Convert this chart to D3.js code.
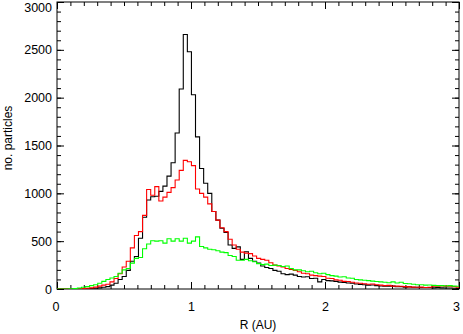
<!DOCTYPE html>
<html lang="en">
<head>
<meta charset="UTF-8">
<title>no. particles vs R</title>
<script src="https://cdnjs.cloudflare.com/ajax/libs/d3/7.8.5/d3.min.js"></script>
<style>
    body { margin: 0; background: #fff; }
    text { font-family: "Liberation Sans", Arial, Helvetica, sans-serif; }
</style>
</head>
<body>
<div id="chart"></div>
<script>
    // histogram counts per radial bin (bins of width binWidth starting at R = 0)
    var blackCounts = [
        0, 0, 0, 0, 0, 1, 2, 3, 5, 8,
        12, 18, 25, 40, 60, 100, 130, 195, 290, 340,
        530, 750, 930, 965, 970, 1020, 1075, 1180, 1320, 1630,
        2090, 2660, 2480, 2030, 1590, 1260, 1105, 1000, 810, 720,
        635, 590, 460, 425, 440, 310, 390, 320, 290, 270,
        240, 225, 215, 195, 185, 160, 150, 155, 145, 130,
        125, 128, 110, 112, 75, 100, 88, 85, 80, 72,
        68, 62, 60, 52, 48, 45, 40, 42, 35, 32,
        30, 28, 30, 24, 25, 20, 22, 18, 18, 16,
        15, 16, 12, 14, 12, 10, 10, 8, 6
    ];
    var redCounts = [
        0, 0, 0, 0, 1, 3, 5, 8, 12, 20,
        30, 40, 50, 75, 110, 160, 230, 290, 430, 560,
        600, 770, 1040, 980, 1070, 920, 960, 1010, 1060, 1140,
        1240, 1345, 1330, 1290, 1045, 1000, 960, 890, 810, 720,
        640, 600, 520, 460, 415, 385, 375, 370, 345, 320,
        310, 300, 275, 250, 240, 230, 215, 205, 195, 180,
        165, 160, 145, 140, 135, 130, 112, 110, 95, 92,
        80, 78, 70, 62, 60, 55, 50, 52, 45, 40,
        35, 38, 30, 30, 28, 25, 22, 20, 18, 20,
        16, 18, 28, 30, 32, 30, 28, 25, 20
    ];
    var greenCounts = [
        0, 0, 0, 2, 5, 10, 18, 25, 35, 45,
        60, 80, 100, 115, 130, 165, 200, 215, 270, 320,
        330, 420, 470, 505, 500, 505, 480, 525, 500, 525,
        500, 530, 480, 500, 545, 445, 430, 415, 410, 400,
        385, 380, 350, 340, 300, 300, 310, 295, 285, 265,
        255, 260, 245, 250, 245, 235, 240, 215, 200, 200,
        190, 180, 185, 170, 160, 165, 150, 140, 135, 125,
        128, 115, 112, 100, 95, 92, 88, 82, 78, 75,
        70, 66, 75, 62, 70, 58, 55, 50, 45, 45,
        40, 42, 38, 35, 35, 32, 35, 30, 28
    ];
    var binWidth = 0.0304;

    var xMajor = [0, 1, 2, 3];
    var xMinor = d3.range(0, 3.001, 0.1);
    var yMajor = [0, 500, 1000, 1500, 2000, 2500, 3000];
    var yMinor = d3.range(0, 3001, 100);

    var w = 463;
    var h = 334;
    var plotLeft = 57, plotRight = 459, plotTop = 2, plotBottom = 289;

    var svg = d3.select("#chart")
        .append("svg")
        .attr("width", w)
        .attr("height", h);

    var xScale = d3.scaleLinear().domain([0, 3]).range([plotLeft, plotRight]);
    var yScale = d3.scaleLinear().domain([0, 3000]).range([plotBottom, plotTop]);

    svg.append("clipPath")
        .attr("id", "plotclip")
        .append("rect")
        .attr("x", plotLeft)
        .attr("y", plotTop - 1)
        .attr("width", plotRight - plotLeft)
        .attr("height", plotBottom - plotTop + 1);

    // frame
    svg.append("rect")
        .attr("x", plotLeft)
        .attr("y", plotTop)
        .attr("width", plotRight - plotLeft)
        .attr("height", plotBottom - plotTop)
        .attr("fill", "none")
        .attr("stroke", "#000")
        .attr("stroke-width", 1);

    var noDomain = function(g) { g.select(".domain").remove(); };

    // bottom
    svg.append("g")
        .attr("transform", "translate(0," + plotBottom + ")")
        .call(d3.axisBottom(xScale).tickValues(xMinor).tickSize(-4).tickFormat(""))
        .call(noDomain);
    var xAxisG = svg.append("g")
        .attr("transform", "translate(0," + plotBottom + ")")
        .call(d3.axisBottom(xScale).tickValues(xMajor).tickSize(-7).tickPadding(13).tickFormat(d3.format("d")))
        .call(noDomain);

    // top
    svg.append("g")
        .attr("transform", "translate(0," + plotTop + ")")
        .call(d3.axisTop(xScale).tickValues(xMinor).tickSize(-4).tickFormat(""))
        .call(noDomain);
    svg.append("g")
        .attr("transform", "translate(0," + plotTop + ")")
        .call(d3.axisTop(xScale).tickValues(xMajor).tickSize(-7).tickFormat(""))
        .call(noDomain);

    // left
    svg.append("g")
        .attr("transform", "translate(" + plotLeft + ",0)")
        .call(d3.axisLeft(yScale).tickValues(yMinor).tickSize(-4).tickFormat(""))
        .call(noDomain);
    var yAxisG = svg.append("g")
        .attr("transform", "translate(" + plotLeft + ",0)")
        .call(d3.axisLeft(yScale).tickValues(yMajor).tickSize(-7).tickPadding(5).tickFormat(d3.format("d")))
        .call(noDomain);

    // right
    svg.append("g")
        .attr("transform", "translate(" + plotRight + ",0)")
        .call(d3.axisRight(yScale).tickValues(yMinor).tickSize(-4).tickFormat(""))
        .call(noDomain);
    svg.append("g")
        .attr("transform", "translate(" + plotRight + ",0)")
        .call(d3.axisRight(yScale).tickValues(yMajor).tickSize(-7).tickFormat(""))
        .call(noDomain);

    svg.selectAll(".tick text")
        .attr("font-family", "Liberation Sans, Arial, sans-serif")
        .attr("font-size", 12.5)
        .attr("fill", "#000");

    // labels at the ends are pushed inside the picture
    yAxisG.selectAll(".tick text").filter(function(d) { return d === 3000; }).attr("y", 5);
    xAxisG.selectAll(".tick text").filter(function(d) { return d === 3; }).attr("dx", -3);
    xAxisG.selectAll(".tick text").filter(function(d) { return d === 0; }).attr("dx", -1.5);

    // histograms
    var stepPoints = function(vals) {
        var pts = vals.map(function(v, i) { return [i * binWidth, v]; });
        pts.push([vals.length * binWidth, vals[vals.length - 1]]);
        return pts;
    };

    var line = d3.line()
        .x(function(d) { return xScale(d[0]); })
        .y(function(d) { return yScale(d[1]); })
        .curve(d3.curveStepAfter);

    var series = [
        { vals: blackCounts, color: "#000000" },
        { vals: redCounts, color: "#ff0000" },
        { vals: greenCounts, color: "#00ff00" }
    ];

    svg.append("g")
        .attr("clip-path", "url(#plotclip)")
        .selectAll("path")
        .data(series)
        .enter()
        .append("path")
        .attr("d", function(d) { return line(stepPoints(d.vals)); })
        .attr("fill", "none")
        .attr("stroke", function(d) { return d.color; })
        .attr("stroke-width", 1.1);

    // axis titles
    svg.append("text")
        .attr("x", (plotLeft + plotRight) / 2)
        .attr("y", 329)
        .attr("text-anchor", "middle")
        .attr("font-size", 12)
        .text("R (AU)");

    svg.append("text")
        .attr("transform", "translate(12," + 138 + ") rotate(-90)")
        .attr("text-anchor", "middle")
        .attr("font-size", 12)
        .text("no. particles");
</script>
</body>
</html>
